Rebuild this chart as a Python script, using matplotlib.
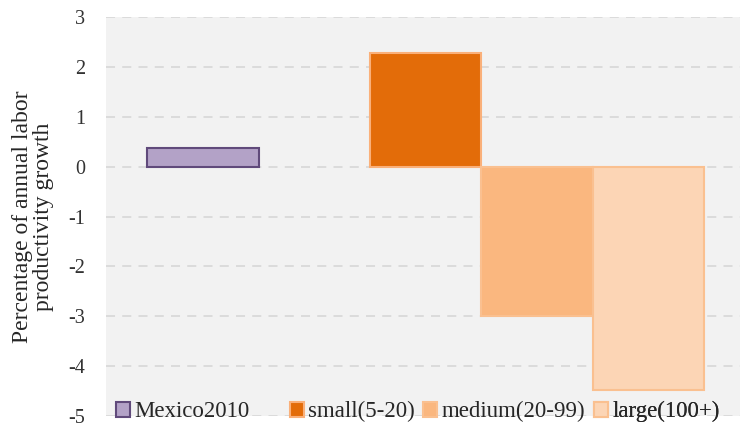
import matplotlib.pyplot as plt
from matplotlib.patches import Patch

series = ["Mexico2010", "small(5-20)", "medium(20-99)", "large(100+)"]
values = [0.38, 2.27, -3.0, -4.48]
slots = [0, 2, 3, 4]
fills = ["#b3a2c7", "#e36c09", "#fab77f", "#fcd5b5"]
edges = ["#604a7b", "#fab07a", "#fac090", "#fac090"]
yticks = [3, 2, 1, 0, -1, -2, -3, -4, -5]
legend_x = [0.016, 0.290, 0.500, 0.770]

plt.rcParams["font.family"] = ["Liberation Serif", "DejaVu Serif"]

fig = plt.figure(figsize=(7.45, 4.28), dpi=100)
ax = fig.add_axes([106 / 745, 12 / 428, 634 / 745, 399 / 428])
ax.set_facecolor("#f2f2f2")

for s, v, p, fc, ec in zip(series, values, slots, fills, edges):
    ax.bar(p, v, width=1.0, color=fc, edgecolor=ec, linewidth=1.5, label=s, zorder=3)

ax.set_ylim(-5, 3)
ax.set_xlim(-0.87, 4.82)
ax.set_yticks(yticks)
ax.set_yticklabels([str(t) for t in yticks], fontsize=14.5, color="#333333")
ax.set_xticks([])
ax.tick_params(axis="y", length=0, pad=15)
for sp in ax.spines.values():
    sp.set_visible(False)
ax.grid(axis="y", color="#d9d9d9", linestyle=(0, (5, 4)), linewidth=1.3, zorder=1)

ax.set_ylabel("Percentage of annual labor\nproductivity growth", fontsize=17,
              color="#262626", labelpad=10, linespacing=1.0)

# one legend box per series, placed along the bottom of the plot area
for s, fc, ec, lx in zip(series, fills, edges, legend_x):
    handle = Patch(facecolor=fc, edgecolor=ec, linewidth=1.5)
    lg = ax.legend([handle], [s], loc="lower left", bbox_to_anchor=(lx, -0.016),
                   frameon=False, fontsize=16.5, borderpad=0, borderaxespad=0,
                   handlelength=0.6, handleheight=0.6, handletextpad=0.2,
                   labelcolor="#262626")
    ax.add_artist(lg)

fig.savefig("out.png", dpi=100)
